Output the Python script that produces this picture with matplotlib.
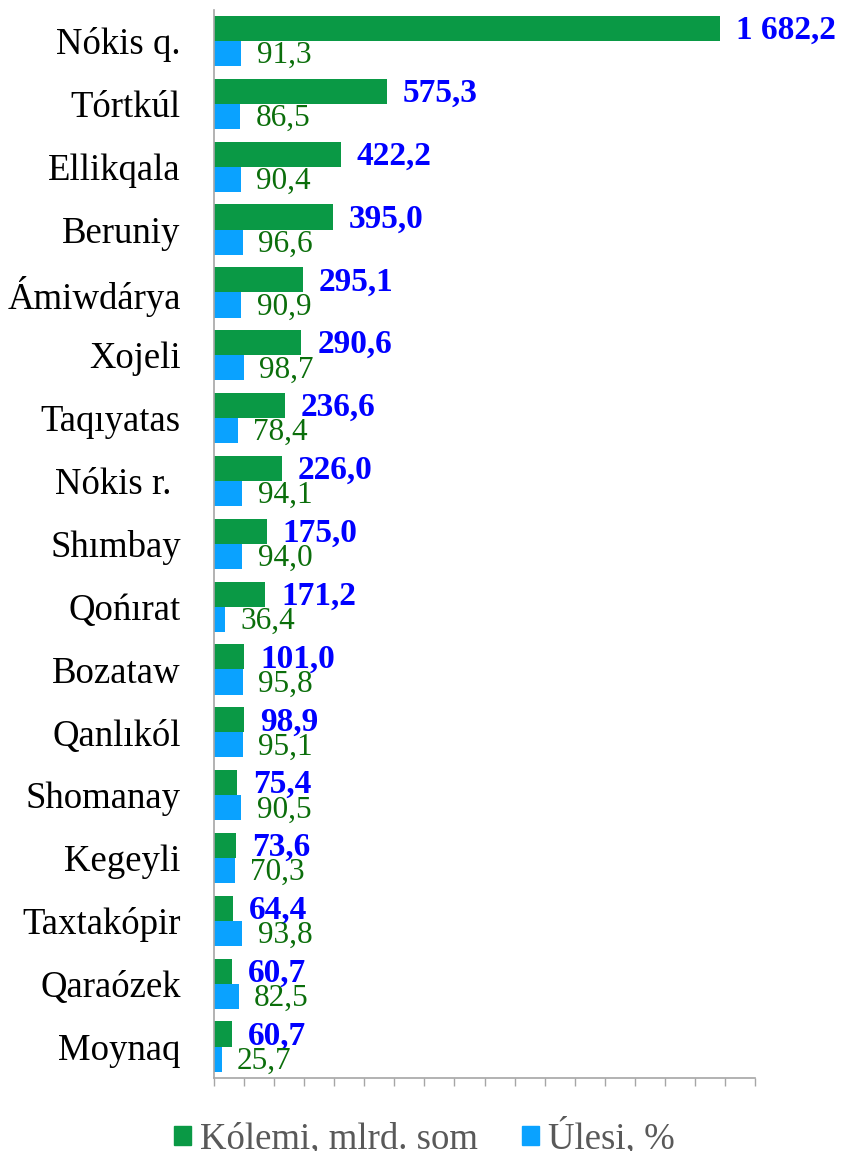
import matplotlib
matplotlib.use('Agg')
import matplotlib.pyplot as plt
from matplotlib.patches import Patch
import numpy as np

plt.rcParams['font.family'] = ['Liberation Serif', 'DejaVu Serif']

# data
districts = ['Nókis q.', 'Tórtkúl', 'Ellikqala', 'Beruniy', 'Ámiwdárya', 'Xojeli',
             'Taqıyatas', 'Nókis r. ', 'Shımbay', 'Qońırat', 'Bozataw', 'Qanlıkól',
             'Shomanay', 'Kegeyli', 'Taxtakópir', 'Qaraózek', 'Moynaq']
volume = [1682.2, 575.3, 422.2, 395.0, 295.1, 290.6, 236.6, 226.0, 175.0, 171.2,
          101.0, 98.9, 75.4, 73.6, 64.4, 60.7, 60.7]
share = [91.3, 86.5, 90.4, 96.6, 90.9, 98.7, 78.4, 94.1, 94.0, 36.4,
         95.8, 95.1, 90.5, 70.3, 93.8, 82.5, 25.7]
legend_names = ['Kólemi, mlrd. som', 'Úlesi, %']

green = '#0A9945'
blue = '#0AA2FF'


def fmt(v):
    return f'{v:,.1f}'.replace(',', ' ').replace('.', ',')


fig = plt.figure(figsize=(8.41, 11.51), dpi=100)
ax = fig.add_axes([0.2545, 0.0634, 0.6432, 0.9283])

y = np.arange(len(districts))
h = 0.4
ax.barh(y - h / 2, volume, height=h, color=green)
ax.barh(y + h / 2, share, height=h, color=blue)

for i in range(len(districts)):
    ax.annotate(fmt(volume[i]), (volume[i], y[i] - h / 2), xytext=(11.5, -1.5),
                textcoords='offset points', ha='left', va='center',
                fontsize=24, fontweight='bold', color='#0000FF')
    ax.annotate(fmt(share[i]), (share[i], y[i] + h / 2), xytext=(11, -1.5),
                textcoords='offset points', ha='left', va='center',
                fontsize=22.5, color='#0B6E0B')

ax.set_ylim(len(districts) - 0.5, -0.5)
ax.set_xlim(0, 1800)
ax.set_xticks(np.arange(0, 1801, 100))
ax.set_xticklabels([])
ax.set_yticks(y)
ax.set_yticklabels(districts, fontsize=26.5)
ax.tick_params(axis='y', length=0, pad=24)
ax.tick_params(axis='x', length=6, width=1, color='#A6A6A6', direction='out')
for s in ['top', 'right']:
    ax.spines[s].set_visible(False)
for s in ['left', 'bottom']:
    ax.spines[s].set_color('#A6A6A6')
    ax.spines[s].set_linewidth(1.2)

handles = [Patch(color=green), Patch(color=blue)]
leg = fig.legend(handles, legend_names, loc='center', bbox_to_anchor=(0.505, 0.012),
                 ncol=2, frameon=False, fontsize=26.5, handlelength=0.45,
                 handleheight=0.45, handletextpad=0.25, columnspacing=1.2)
for t in leg.get_texts():
    t.set_color('#595959')

fig.savefig('out.png', dpi=100)
